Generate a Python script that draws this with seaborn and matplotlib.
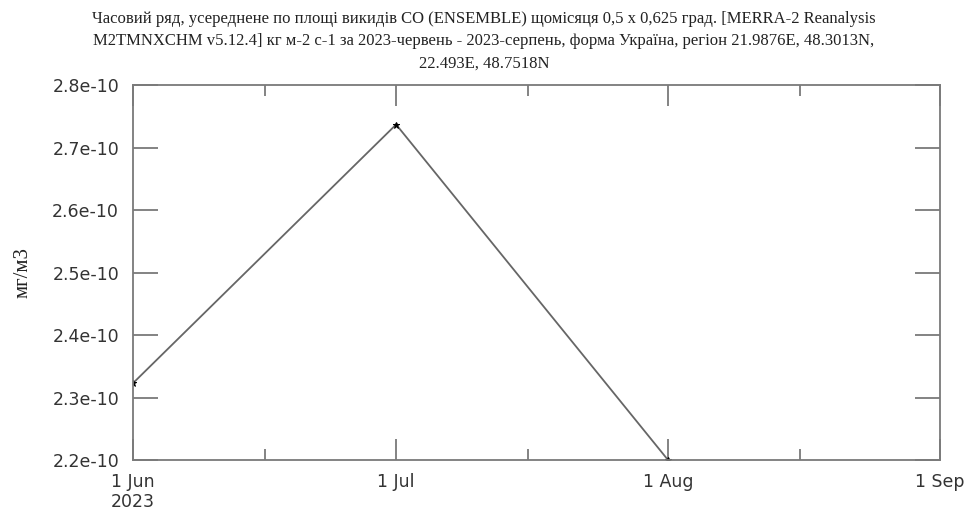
import matplotlib
matplotlib.use("Agg")
import matplotlib.pyplot as plt
import seaborn as sns
import pandas as pd

# Monthly-mean CO emissions, area-averaged
dates = ["2023-06-01", "2023-07-01", "2023-08-01"]
values = [2.323e-10, 2.737e-10, 2.200e-10]

xtick_dates = ["2023-06-01", "2023-07-01", "2023-08-01", "2023-09-01"]
xtick_labels = ["1 Jun\n2023", "1 Jul", "1 Aug", "1 Sep"]
minor_dates = ["2023-06-16", "2023-07-16", "2023-08-16"]
ytick_values = [2.2e-10, 2.3e-10, 2.4e-10, 2.5e-10, 2.6e-10, 2.7e-10, 2.8e-10]
ytick_labels = ["2.2e-10", "2.3e-10", "2.4e-10", "2.5e-10", "2.6e-10", "2.7e-10", "2.8e-10"]

title = ("Часовий ряд, усереднене по площі викидів CO (ENSEMBLE) щомісяця 0,5 x 0,625 град. "
         "[MERRA-2 Reanalysis\nM2TMNXCHM v5.12.4] кг м-2 с-1 за 2023-червень - 2023-серпень, "
         "форма Україна, регіон 21.9876E, 48.3013N,\n22.493E, 48.7518N")
ylabel = "мг/м3"

sns.set_style("white")
plt.rcParams["font.family"] = ["DejaVu Sans"]

df = pd.DataFrame({"date": pd.to_datetime(dates), "value": values})

fig = plt.figure(figsize=(9.68, 5.13), dpi=100)
ax = fig.add_axes([0.1374, 0.1033, 0.971 - 0.1374, 0.834 - 0.1033])

sns.lineplot(data=df, x="date", y="value", ax=ax, color="#666666", linewidth=1.3,
             marker="*", markersize=5, markerfacecolor="black", markeredgecolor="black")

ax.set_xlim(pd.Timestamp(xtick_dates[0]), pd.Timestamp(xtick_dates[-1]))
ax.set_ylim(ytick_values[0], ytick_values[-1])

ax.set_xticks(pd.to_datetime(xtick_dates))
ax.set_xticklabels(xtick_labels, linespacing=1.2)
ax.set_xticks(pd.to_datetime(minor_dates), minor=True)
ax.set_yticks(ytick_values)
ax.set_yticklabels(ytick_labels)

frame_color = "#7a7a7a"
for s in ax.spines.values():
    s.set_color(frame_color)
    s.set_linewidth(1.3)

ax.tick_params(axis="both", which="major", direction="in", top=True, right=True,
               bottom=True, left=True, color=frame_color, width=1.3,
               labelsize=12.5, labelcolor="#333333")
ax.tick_params(axis="x", which="major", length=15, pad=9)
ax.tick_params(axis="y", which="major", length=18, pad=10)
ax.tick_params(axis="x", which="minor", direction="in", top=True, bottom=True,
               length=8, width=1.3, color=frame_color)

ax.set_xlabel("")
ax.set_ylabel(ylabel, family=["Liberation Serif"], fontsize=15, color="#222222")
ax.yaxis.set_label_coords(-0.124, 0.5)

fig.suptitle(title, family=["Liberation Serif"], fontsize=12, y=0.978, linespacing=1.5,
             color="#222222")

fig.savefig("out.png", dpi=100)
